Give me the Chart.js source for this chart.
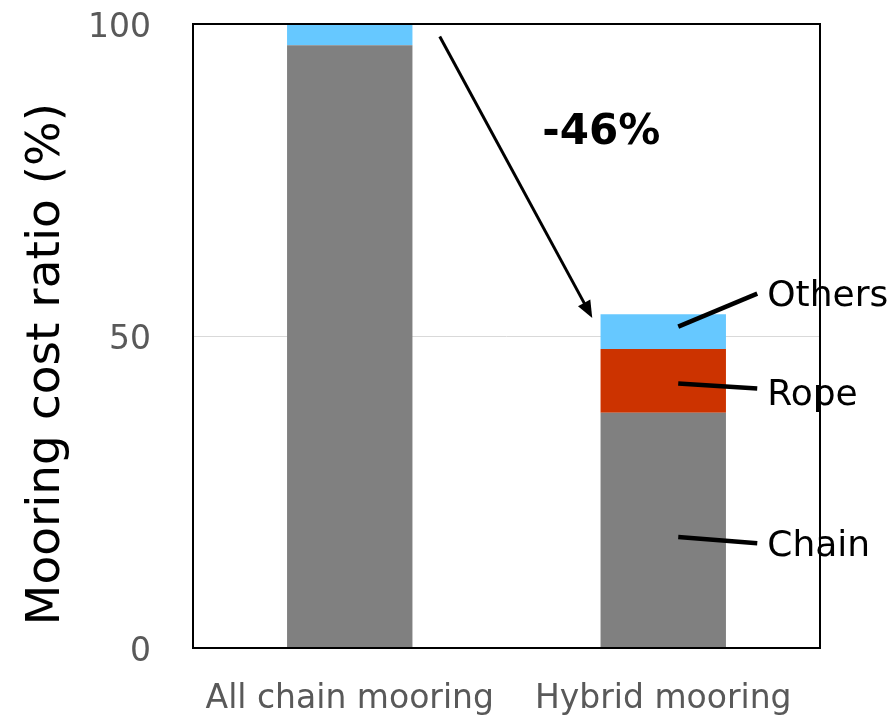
<!DOCTYPE html>
<html>
<head>
<meta charset="utf-8">
<script src="https://cdn.jsdelivr.net/npm/chart.js@4.4.1/dist/chart.umd.min.js"></script>
<style>
  html, body { margin: 0; padding: 0; background: #fff; }
  #wrap { width: 896px; height: 716px; }
</style>
</head>
<body>
<div id="wrap"><canvas id="costChart" width="896" height="716"></canvas></div>
<script>
    // data
    const categories = ["All chain mooring", "Hybrid mooring"];
    const chainValues = [96.6, 37.7];
    const ropeValues = [0, 10.2];
    const othersValues = [3.4, 5.6];
    const yTicks = [0, 50, 100];
    const yTitle = "Mooring cost ratio (%)";
    const reductionText = "-46%";

    const fontFam = "'DejaVu Sans', Verdana, sans-serif";

    // frame, y title, arrow and segment labels
    const annotations = {
        id: "annotations",
        afterDatasetsDraw(chart) {
            const { ctx, chartArea: a, scales: { x, y } } = chart;
            ctx.save();

            // frame around plot area
            ctx.strokeStyle = "#000";
            ctx.lineWidth = 2;
            ctx.strokeRect(a.left, a.top, a.right - a.left, a.bottom - a.top);

            // y title (sits a bit below the middle in the original)
            ctx.save();
            ctx.translate(47, y.getPixelForValue(45.5));
            ctx.rotate(-Math.PI / 2);
            ctx.font = "47px " + fontFam;
            ctx.fillStyle = "#000";
            ctx.textAlign = "center";
            ctx.textBaseline = "middle";
            ctx.fillText(yTitle, 0, 0);
            ctx.restore();

            // arrow from first bar to second
            const hybridTotal = chainValues[1] + ropeValues[1] + othersValues[1];
            const x0 = x.getPixelForValue(0) + 90, y0 = y.getPixelForValue(98);
            const x1 = x.getPixelForValue(1) - 71, y1 = y.getPixelForValue(hybridTotal - 0.6);
            const ang = Math.atan2(y1 - y0, x1 - x0);
            ctx.lineWidth = 3;
            ctx.beginPath();
            ctx.moveTo(x0, y0);
            ctx.lineTo(x1 - 10 * Math.cos(ang), y1 - 10 * Math.sin(ang));
            ctx.stroke();
            ctx.fillStyle = "#000";
            ctx.beginPath();
            ctx.moveTo(x1, y1);
            ctx.lineTo(x1 - 17 * Math.cos(ang) + 7 * Math.sin(ang), y1 - 17 * Math.sin(ang) - 7 * Math.cos(ang));
            ctx.lineTo(x1 - 17 * Math.cos(ang) - 7 * Math.sin(ang), y1 - 17 * Math.sin(ang) + 7 * Math.cos(ang));
            ctx.closePath();
            ctx.fill();

            ctx.font = "bold 42px " + fontFam;
            ctx.textAlign = "center";
            ctx.textBaseline = "middle";
            ctx.fillText(reductionText, x.getPixelForValue(1) - 62, y.getPixelForValue(82.5));

            // segment labels with leader lines
            const bx = x.getPixelForValue(1) + 15;
            const lx = x.getPixelForValue(1) + 94;
            const labels = [
                { text: "Others", from: 51.5, to: 56.8, ty: 56.3 },
                { text: "Rope", from: 42.4, to: 41.6, ty: 40.5 },
                { text: "Chain", from: 17.8, to: 16.8, ty: 16.3 }
            ];
            ctx.lineWidth = 4.5;
            ctx.font = "36px " + fontFam;
            ctx.textAlign = "left";
            labels.forEach(l => {
                ctx.beginPath();
                ctx.moveTo(bx, y.getPixelForValue(l.from));
                ctx.lineTo(lx, y.getPixelForValue(l.to));
                ctx.stroke();
                ctx.fillText(l.text, lx + 10, y.getPixelForValue(l.ty));
            });
            ctx.restore();
        }
    };

    new Chart(document.getElementById("costChart"), {
        type: "bar",
        data: {
            labels: categories,
            datasets: [
                { label: "Chain", data: chainValues, backgroundColor: "#808080" },
                { label: "Rope", data: ropeValues, backgroundColor: "#CC3300" },
                { label: "Others", data: othersValues, backgroundColor: "#66C8FF" }
            ]
        },
        options: {
            responsive: false,
            animation: false,
            layout: { padding: { top: 24, right: 76, left: 0, bottom: 0 } },
            datasets: { bar: { categoryPercentage: 1, barPercentage: 0.4 } },
            plugins: {
                legend: { display: false },
                tooltip: { enabled: false }
            },
            scales: {
                x: {
                    stacked: true,
                    afterFit: s => { s.height = 68; s.paddingLeft = 0; s.paddingRight = 0; },
                    grid: { display: false, drawTicks: false },
                    border: { display: false },
                    ticks: { color: "#595959", padding: 32, font: { family: fontFam, size: 33 } }
                },
                y: {
                    stacked: true,
                    min: 0,
                    max: 100,
                    afterFit: s => { s.width = 193; s.paddingTop = 0; s.paddingBottom = 0; },
                    afterBuildTicks: s => { s.ticks = yTicks.map(v => ({ value: v })); },
                    grid: { color: "#d9d9d9", drawTicks: false },
                    border: { display: false },
                    ticks: { color: "#595959", padding: 42, labelOffset: 4, font: { family: fontFam, size: 33 } }
                }
            }
        },
        plugins: [annotations]
    });
</script>
</body>
</html>
